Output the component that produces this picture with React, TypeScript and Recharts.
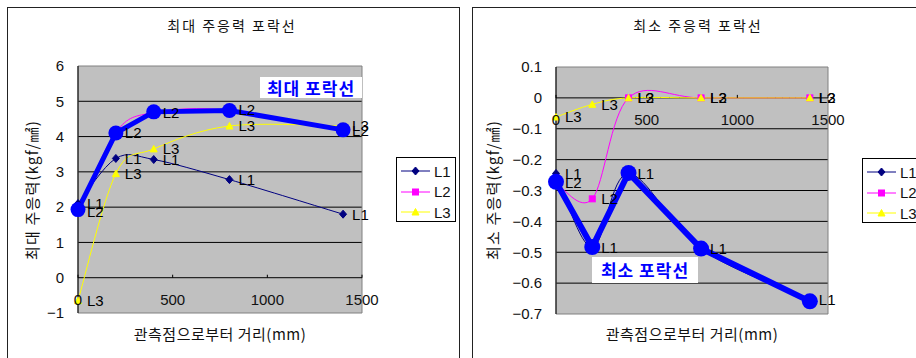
// Two Excel-style envelope charts side by side: max and min principal stress
// vs. distance from the observation point. Thin smoothed series L1..L3 with
// data labels, plus a heavy blue envelope drawn over them.

import { CartesianGrid, LabelList, Line, LineChart, ReferenceArea, ReferenceLine, XAxis, YAxis } from 'recharts'

const DIST = [0, 200, 400, 800, 1400]
const X_TICKS = [0, 500, 1000, 1500]

// max principal stress (kgf/mm2)
const MAX_L1 = [2.1, 3.38, 3.35, 2.78, 1.8]
const MAX_L2 = [1.86, 4.12, 4.68, 4.75, 4.17]
const MAX_L3 = [-0.65, 2.95, 3.65, 4.3, 4.3]
const MAX_ENV = [1.93, 4.1, 4.7, 4.74, 4.19]
const MAX_TICKS = [-1, 0, 1, 2, 3, 4, 5, 6]
const MAX_GRID = [1, 2, 3, 4, 5]

// min principal stress (kgf/mm2)
const MIN_L1 = [-0.245, -0.485, -0.245, -0.49, -0.655]
const MIN_L2 = [-0.275, -0.327, 0, 0, 0]
const MIN_L3 = [-0.062, -0.021, 0, 0, 0]
const MIN_ENV = [-0.272, -0.483, -0.243, -0.488, -0.659]
const MIN_TICKS = [0.1, 0, -0.1, -0.2, -0.3, -0.4, -0.5, -0.6, -0.7]
const MIN_GRID = [-0.1, -0.2, -0.3, -0.4, -0.5, -0.6]

const SERIES = ['L1', 'L2', 'L3']

const NAVY = '#000080'
const MAGENTA = '#FF00FF'
const YELLOW = '#FFFF00'
const BLUE = '#0000FF'
const FONT_KR = '"Noto Sans CJK KR", sans-serif'
const FONT_NUM = '"Liberation Sans", Arial, sans-serif'

interface Row {
  x: number
  l1: number
  l2: number
  l3: number
  env: number
}

function buildRows(l1: number[], l2: number[], l3: number[], env: number[]): Row[] {
  return DIST.map((x, i) => ({ x, l1: l1[i], l2: l2[i], l3: l3[i], env: env[i] }))
}

// Excel "smoothed line": Catmull-Rom style bezier through every point.
function excelSmooth(context: any) {
  let pts: number[][] = []
  return {
    areaStart() {},
    areaEnd() {},
    lineStart() {
      pts = []
    },
    lineEnd() {
      const n = pts.length
      if (!n) return
      context.moveTo(pts[0][0], pts[0][1])
      for (let i = 0; i < n - 1; i++) {
        const p0 = pts[i - 1] || pts[i]
        const p1 = pts[i]
        const p2 = pts[i + 1]
        const p3 = pts[i + 2] || p2
        context.bezierCurveTo(
          p1[0] + (p2[0] - p0[0]) / 6,
          p1[1] + (p2[1] - p0[1]) / 6,
          p2[0] - (p3[0] - p1[0]) / 6,
          p2[1] - (p3[1] - p1[1]) / 6,
          p2[0],
          p2[1],
        )
      }
    },
    point(x: number, y: number) {
      pts.push([x, y])
    },
  }
}

function Marker({ kind, cx, cy }: { kind: string; cx: number; cy: number }) {
  if (kind === 'L1')
    return <polygon points={`${cx},${cy - 4} ${cx + 3.5},${cy} ${cx},${cy + 4} ${cx - 3.5},${cy}`} fill={NAVY} stroke={NAVY} />
  if (kind === 'L2') return <rect x={cx - 3} y={cy - 3} width={6} height={6} fill={MAGENTA} stroke={MAGENTA} />
  return <polygon points={`${cx},${cy - 3.5} ${cx + 3.5},${cy + 3} ${cx - 3.5},${cy + 3}`} fill={YELLOW} stroke={YELLOW} />
}

const COLORS: Record<string, string> = { L1: NAVY, L2: MAGENTA, L3: YELLOW }

function dotFor(kind: string) {
  return (p: any) => {
    if (p.cx == null || p.cy == null) return <g key={p.key ?? p.index} />
    return <Marker key={p.key ?? p.index} kind={kind} cx={p.cx} cy={p.cy} />
  }
}

interface PanelProps {
  rows: Row[]
  title: string
  yTitle: string
  note: string
  yTicks: number[]
  gridValues: number[]
  fmt: (v: number) => string
  frame: { left: number; top: number; width: number; height: number }
  chart: { width: number; height: number }
  plot: { left: number; top: number; width: number; height: number }
  yAxisWidth: number
  titleX: number
  yTitleX: number
  xTitleX: number
  legend: { left: number; top: number; width: number; height: number }
  noteBox: { left: number; top: number; width: number; height: number }
  envWidth: number
  envR: number
}

function StressPanel(props: PanelProps) {
  const { rows, frame, chart, plot, yTicks } = props
  const yMax = yTicks[0]
  const yMin = yTicks[yTicks.length - 1]
  const zeroY = plot.top + (plot.height * yMax) / (yMax - yMin)

  const XTick = (p: any) => (
    <g>
      <line x1={p.x} x2={p.x} y1={zeroY} y2={zeroY - 3} stroke="#000" />
      <text
        x={p.x}
        y={zeroY + 22}
        textAnchor="middle"
        dominantBaseline="central"
        fontSize={15}
        fontFamily={FONT_NUM}
        fill="#111"
      >
        {p.payload.value}
      </text>
    </g>
  )

  return (
    <>
      <div
        style={{
          position: 'absolute',
          left: frame.left,
          top: frame.top,
          width: frame.width,
          height: frame.height,
          border: '1px solid #222',
          boxSizing: 'border-box',
        }}
      />
      <div style={{ position: 'absolute', left: frame.left, top: frame.top }}>
        <LineChart
          width={chart.width}
          height={chart.height}
          data={rows}
          margin={{
            top: plot.top,
            left: plot.left - props.yAxisWidth,
            right: chart.width - plot.left - plot.width,
            bottom: chart.height - plot.top - plot.height - 1,
          }}
        >
          <CartesianGrid fill="#C0C0C0" stroke="#000" vertical={false} horizontalValues={props.gridValues} />
          <ReferenceArea x1={0} x2={1500} y1={yMin} y2={yMax} fill="none" fillOpacity={0} stroke="#808080" />
          <ReferenceLine y={0} stroke="#000" />
          <XAxis
            dataKey="x"
            type="number"
            domain={[0, 1500]}
            ticks={X_TICKS}
            height={1}
            interval={0}
            axisLine={false}
            tickLine={false}
            tick={XTick}
          />
          <YAxis
            type="number"
            domain={[yMin, yMax]}
            ticks={yTicks}
            width={props.yAxisWidth}
            axisLine={{ stroke: '#000' }}
            tickLine={false}
            tickSize={0}
            tickMargin={14}
            tickFormatter={props.fmt}
            tick={{ fontSize: 15, fontFamily: FONT_NUM, fill: '#111' }}
          />
          {SERIES.map((name) => (
            <Line
              key={name}
              dataKey={name.toLowerCase()}
              type={excelSmooth as any}
              stroke={COLORS[name]}
              strokeWidth={1}
              dot={dotFor(name)}
              activeDot={false}
              isAnimationActive={false}
            >
              <LabelList
                dataKey={name.toLowerCase()}
                position="right"
                offset={9}
                formatter={() => name}
                fontSize={15}
                fontFamily={FONT_NUM}
                fill="#000"
              />
            </Line>
          ))}
          <Line
            dataKey="env"
            type="linear"
            stroke={BLUE}
            strokeWidth={props.envWidth}
            dot={{ r: props.envR, fill: BLUE, stroke: BLUE, strokeWidth: 0 }}
            activeDot={false}
            isAnimationActive={false}
          />
        </LineChart>
      </div>

      <div
        style={{
          position: 'absolute',
          left: props.titleX - 150,
          top: 15,
          width: 300,
          textAlign: 'center',
          fontFamily: FONT_KR,
          fontSize: 14,
          letterSpacing: 2,
          lineHeight: '20px',
          color: '#111',
        }}
      >
        {props.title}
      </div>
      <div
        style={{
          position: 'absolute',
          left: props.xTitleX - 150,
          top: 324,
          width: 300,
          textAlign: 'center',
          fontFamily: FONT_KR,
          fontSize: 15,
          letterSpacing: 0.5,
          lineHeight: '20px',
          color: '#111',
        }}
      >
        관측점으로부터 거리(mm)
      </div>
      <div
        style={{
          position: 'absolute',
          left: props.yTitleX - 100,
          top: 180,
          width: 200,
          textAlign: 'center',
          fontFamily: FONT_KR,
          fontSize: 15,
          letterSpacing: 1.2,
          lineHeight: '20px',
          color: '#111',
          transform: 'rotate(-90deg)',
        }}
      >
        {props.yTitle}
      </div>

      <div
        style={{
          position: 'absolute',
          ...props.noteBox,
          background: '#fff',
          color: BLUE,
          fontFamily: FONT_KR,
          fontWeight: 700,
          fontSize: 17,
          letterSpacing: 1,
          textAlign: 'center',
          lineHeight: `${props.noteBox.height}px`,
        }}
      >
        {props.note}
      </div>

      <div
        style={{
          position: 'absolute',
          ...props.legend,
          border: '1px solid #000',
          boxSizing: 'border-box',
          background: '#fff',
          paddingTop: 3,
        }}
      >
        {SERIES.map((name) => (
          <div key={name} style={{ display: 'flex', alignItems: 'center', height: 20.5 }}>
            <svg width={34} height={12} style={{ marginLeft: 3 }}>
              <line x1={1} x2={30} y1={6} y2={6} stroke={COLORS[name]} strokeWidth={1} />
              <Marker kind={name} cx={15.5} cy={6} />
            </svg>
            <span style={{ fontFamily: FONT_NUM, fontSize: 15, color: '#111' }}>{name}</span>
          </div>
        ))}
      </div>
    </>
  )
}

const fmtMax = (v: number) => String(v).replace('-', '−')
const fmtMin = (v: number) => (v === 0 ? '0' : v.toFixed(1).replace('-', '−'))

export default function App() {
  return (
    <div
      style={{
        position: 'absolute',
        left: 0,
        top: 0,
        width: 916,
        height: 358,
        overflow: 'hidden',
        background: '#fff',
      }}
    >
      <StressPanel
        rows={buildRows(MAX_L1, MAX_L2, MAX_L3, MAX_ENV)}
        title="최대 주응력 포락선"
        yTitle="최대 주응력(kgf/㎟)"
        note="최대 포락선"
        yTicks={[...MAX_TICKS].reverse()}
        gridValues={MAX_GRID}
        fmt={fmtMax}
        frame={{ left: 7, top: 7, width: 453, height: 360 }}
        chart={{ width: 452, height: 351 }}
        plot={{ left: 71, top: 59, width: 284, height: 247 }}
        yAxisWidth={40}
        titleX={232}
        yTitleX={32}
        xTitleX={220}
        legend={{ left: 396, top: 157, width: 60, height: 65 }}
        noteBox={{ left: 260, top: 77, width: 102, height: 21 }}
        envWidth={5}
        envR={7.5}
      />
      <StressPanel
        rows={buildRows(MIN_L1, MIN_L2, MIN_L3, MIN_ENV)}
        title="최소 주응력 포락선"
        yTitle="최소 주응력(kgf/㎟)"
        note="최소 포락선"
        yTicks={MIN_TICKS}
        gridValues={MIN_GRID}
        fmt={fmtMin}
        frame={{ left: 472, top: 7, width: 460, height: 360 }}
        chart={{ width: 444, height: 351 }}
        plot={{ left: 84, top: 60, width: 272, height: 247 }}
        yAxisWidth={45}
        titleX={698}
        yTitleX={493}
        xTitleX={692}
        legend={{ left: 862, top: 158, width: 70, height: 65 }}
        noteBox={{ left: 592, top: 257, width: 106, height: 26 }}
        envWidth={6}
        envR={8}
      />
    </div>
  )
}
